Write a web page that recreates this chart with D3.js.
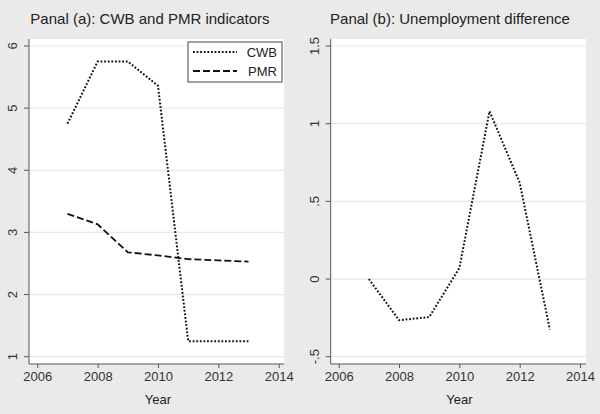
<!DOCTYPE html>
<html>
<head>
<meta charset="utf-8">
<script src="https://cdn.jsdelivr.net/npm/d3@7"></script>
<style>
  body { margin: 0; background: #eaeaea; }
  text { font-family: "Liberation Sans", Arial, sans-serif; fill: #222; }
  .grid line { stroke: #e4eaea; stroke-width: 1.2; }
  .axis path, .axis line { stroke: #555; stroke-width: 1; }
  .axis text { font-size: 13px; fill: #333; }
</style>
</head>
<body>
<div id="chart"></div>
<script>
//////////////////////// Data ////////////////////////
const years = [2007, 2008, 2009, 2010, 2011, 2012, 2013]
const cwb = [4.75, 5.75, 5.75, 5.36, 1.25, 1.25, 1.25]
const pmr = [3.30, 3.13, 2.68, 2.63, 2.57, 2.55, 2.53]
const unempDiff = [0.0, -0.265, -0.245, 0.07, 1.08, 0.62, -0.325]

const xTicks = [2006, 2008, 2010, 2012, 2014]
const yTicksA = [1, 2, 3, 4, 5, 6]
const yTicksB = [-0.5, 0, 0.5, 1, 1.5]
const yLabelsB = ["-.5", "0", ".5", "1", "1.5"]

//////////////////////// SVG ////////////////////////
const width = 600, height = 414
const dotted = "1.8,1.8", dashed = "7,3"

const svg = d3.select("#chart").append("svg")
    .attr("width", width).attr("height", height)

svg.append("rect").attr("width", width).attr("height", height).attr("fill", "#eaeaea")

//Draws one panel and returns its scales
function panel(opt) {
    const g = svg.append("g")

    const x = d3.scaleLinear().domain([2006, 2014]).range(opt.xRange)
    const y = d3.scaleLinear().domain(opt.yDomain).range(opt.yRange)

    //plot region
    g.append("rect")
        .attr("x", opt.left).attr("y", opt.top)
        .attr("width", opt.right - opt.left).attr("height", opt.bottom - opt.top)
        .attr("fill", "white")

    //gridlines
    g.append("g").attr("class", "grid")
        .selectAll("line").data(opt.yTicks).enter().append("line")
        .attr("x1", opt.left + 1).attr("x2", opt.right)
        .attr("y1", d => y(d)).attr("y2", d => y(d))

    //x axis
    const xAxis = g.append("g").attr("class", "axis")
        .attr("transform", "translate(0," + opt.bottom + ")")
        .call(d3.axisBottom(x).tickValues(xTicks).tickFormat(d3.format("d")).tickSizeOuter(0).tickSize(4).tickPadding(4))
    xAxis.select(".domain").attr("d", "M" + opt.left + ",0H" + opt.right)

    //y axis, labels rotated as in Stata
    const yAxis = g.append("g").attr("class", "axis")
        .attr("transform", "translate(" + opt.left + ",0)")
        .call(d3.axisLeft(y).tickValues(opt.yTicks).tickFormat((d, i) => opt.yLabels[i]).tickSizeOuter(0).tickSize(5))
    yAxis.select(".domain").attr("d", "M0," + opt.top + "V" + opt.bottom)
    yAxis.selectAll(".tick").attr("transform", null)
    yAxis.selectAll(".tick line").attr("transform", d => "translate(0," + y(d) + ")")
    yAxis.selectAll("text")
        .attr("x", 0).attr("y", 0).attr("dy", 0)
        .attr("text-anchor", "middle")
        .attr("dominant-baseline", "middle")
        .attr("transform", d => "translate(-15," + y(d) + ") rotate(-90)")

    //axis title
    g.append("text")
        .attr("x", (opt.xRange[0] + opt.xRange[1]) / 2).attr("y", 404)
        .attr("text-anchor", "middle").style("font-size", "13px").attr("fill", "#333")
        .text("Year")

    //panel title
    g.append("text")
        .attr("x", opt.titleX).attr("y", 24)
        .attr("text-anchor", "middle").style("font-size", "15px").attr("fill", "#333")
        .text(opt.title)

    return { g, x, y }
}

//////////////////////// Panel (a) ////////////////////////
const pa = panel({
    left: 29, right: 284, top: 39, bottom: 364,
    xRange: [37.3, 278.7], yDomain: [1, 6], yRange: [356.7, 46],
    yTicks: yTicksA, yLabels: yTicksA.map(String),
    title: "Panal (a): CWB and PMR indicators", titleX: 150
})

const lineA = d3.line().x(d => pa.x(d[0])).y(d => pa.y(d[1]))

pa.g.append("path")
    .attr("d", lineA(d3.zip(years, cwb)))
    .attr("fill", "none").attr("stroke", "#111").attr("stroke-width", 2)
    .attr("stroke-dasharray", dotted)

pa.g.append("path")
    .attr("d", lineA(d3.zip(years, pmr)))
    .attr("fill", "none").attr("stroke", "#111").attr("stroke-width", 1.8)
    .attr("stroke-dasharray", dashed)

//legend
const legend = pa.g.append("g")
legend.append("rect")
    .attr("x", 188).attr("y", 42).attr("width", 94).attr("height", 40)
    .attr("fill", "white").attr("stroke", "#444").attr("stroke-width", 1)
const legendItems = [["CWB", dotted], ["PMR", dashed]]
legendItems.forEach((d, i) => {
    const yy = 52 + i * 19
    legend.append("line")
        .attr("x1", 193).attr("x2", 237).attr("y1", yy).attr("y2", yy)
        .attr("stroke", "#111").attr("stroke-width", i === 0 ? 2 : 1.8).attr("stroke-dasharray", d[1])
    legend.append("text")
        .attr("x", 277).attr("y", yy).attr("dy", "0.35em")
        .attr("text-anchor", "end").style("font-size", "13px").attr("fill", "#333")
        .text(d[0])
})

//////////////////////// Panel (b) ////////////////////////
const pb = panel({
    left: 330.7, right: 586, top: 39, bottom: 364,
    xRange: [338.7, 580], yDomain: [-0.5, 1.5], yRange: [356.7, 46],
    yTicks: yTicksB, yLabels: yLabelsB,
    title: "Panal (b): Unemployment difference", titleX: 450
})

const lineB = d3.line().x(d => pb.x(d[0])).y(d => pb.y(d[1]))

pb.g.append("path")
    .attr("d", lineB(d3.zip(years, unempDiff)))
    .attr("fill", "none").attr("stroke", "#111").attr("stroke-width", 2)
    .attr("stroke-dasharray", dotted)
</script>
</body>
</html>
